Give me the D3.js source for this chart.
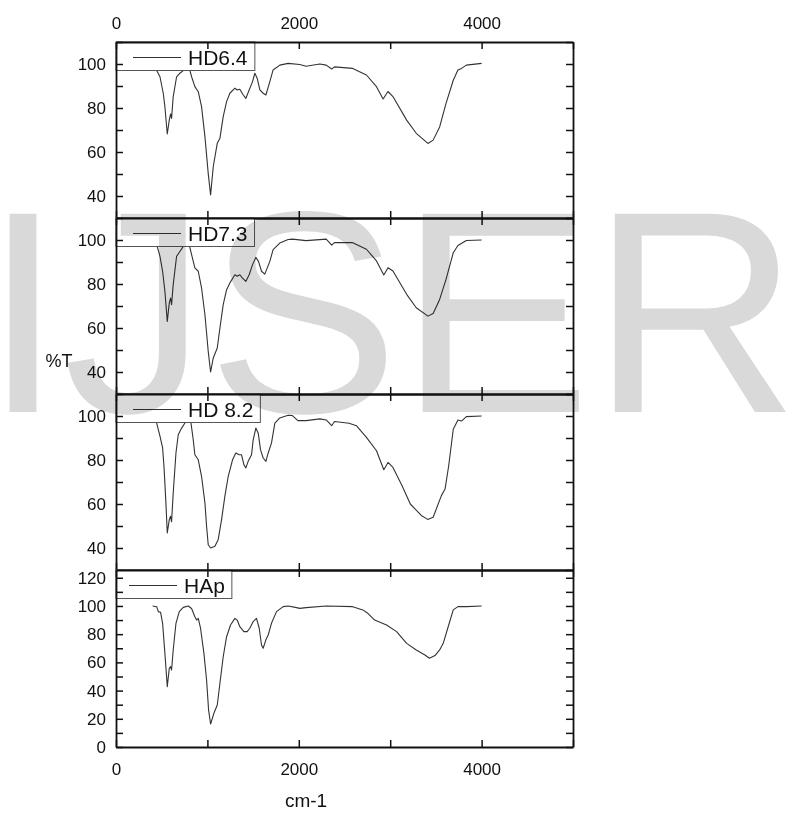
<!DOCTYPE html>
<html lang="en">
<head>
<meta charset="UTF-8">
<script src="https://cdn.jsdelivr.net/npm/d3@7"></script>
<style>
  body { margin: 0; background: #fff; }
  svg text { font-family: Arial, "Liberation Sans", sans-serif; fill: #111; }
  .axis path, .axis line { stroke: #111; }
</style>
</head>
<body>
<svg id="chart" width="787" height="815"></svg>
<script>
// spectra: [wavenumber cm-1, %T]
var hd64 = [[400,100],[445,97],[481,94.2],[517,86.7],[535,80.6],[561,68.2],[583,74.5],[597,77.3],[608,75.3],[626,85.2],
  [663,94.2],[699,95.8],[736,97],[770,98.5],[800,98.5],[827,94.2],[863,89.7],[900,87.4],[936,80.6],[973,67],[1009,50.3],
  [1035,40.5],[1064,53.3],[1108,64],[1137,66.2],[1173,76.1],[1210,82.9],[1246,86.7],[1301,89],[1326,88.2],[1355,88.5],
  [1392,85.9],[1421,84.4],[1457,88.2],[1494,92],[1519,95.8],[1545,93.5],[1574,88.2],[1610,86.7],[1640,85.9],[1683,92],
  [1719,97.3],[1792,99.5],[1883,100.3],[2011,99.8],[2080,99],[2230,100],[2300,99.5],[2360,97.7],[2390,98.7],[2590,98],
  [2740,95],[2850,89.7],[2922,84.1],[2976,87.5],[3030,85.2],[3180,74.5],[3285,68.5],[3413,63.9],[3470,65.4],[3541,71.4],
  [3610,82],[3690,92.6],[3741,97.3],[3780,98],[3833,99.5],[4000,100.3]];

var hd73 = [[400,100],[445,97.9],[481,92.6],[510,85.8],[535,76.7],[561,63],[583,71.4],[597,73.6],[608,70.6],[626,79.7],
  [663,92.6],[699,94.8],[736,97.1],[770,98.5],[800,98],[827,93.3],[863,87.3],[900,85.8],[936,78.2],[973,66],[1009,49.4],
  [1035,40],[1064,46.4],[1108,50.9],[1137,60],[1173,70.6],[1210,77.4],[1246,80.5],[1301,84.2],[1326,83.5],[1355,84.2],
  [1384,82.7],[1421,81.2],[1457,84.2],[1494,88.8],[1530,92.1],[1559,90.3],[1592,85.8],[1628,84.5],[1683,90.3],[1719,95.6],
  [1792,98.6],[1883,100.2],[1930,100.4],[2080,99.7],[2300,100.4],[2360,97.7],[2390,98.8],[2590,98.8],[2740,95.8],
  [2850,90.5],[2930,84.1],[2976,87.4],[3030,85.9],[3180,75.3],[3285,69.2],[3413,65.4],[3470,66.6],[3541,73],[3610,82],
  [3690,94.2],[3741,97.5],[3833,99.8],[4000,100]];

var hd82 = [[400,100],[445,96.8],[481,90.8],[510,85.5],[525,77.1],[546,60.5],[561,46.8],[583,52.9],[597,54.4],[608,51.9],
  [626,65],[656,83.2],[681,91.5],[718,94.5],[754,96.8],[790,98.5],[820,97],[845,89.2],[863,82.4],[900,80.1],[936,72.6],
  [973,60.5],[991,49.9],[1009,41.5],[1035,40],[1082,40.8],[1118,43.8],[1155,52.9],[1191,63.5],[1228,72.6],[1275,80.1],
  [1311,83.2],[1348,82.4],[1373,82.4],[1399,77.9],[1421,76.4],[1446,79.4],[1483,82.4],[1501,89.2],[1530,94.5],[1556,92.2],
  [1581,84.7],[1610,80.9],[1640,79.4],[1665,83.2],[1701,87.7],[1738,96.8],[1792,99.1],[1883,100.3],[1930,100.2],[1990,97.9],
  [2080,97.9],[2230,98.7],[2300,98.2],[2360,95.6],[2390,97.5],[2550,96.7],[2630,95.6],[2740,90.3],[2850,84.2],[2930,75.6],
  [2976,78.9],[3030,76.6],[3130,68.3],[3220,60],[3340,54.8],[3410,53],[3470,54],[3560,63.8],[3600,66.8],[3640,77.4],
  [3690,94],[3741,98.2],[3780,97.7],[3833,99.7],[4000,100]];

var hap = [[401,100],[445,99.5],[463,96],[488,95.5],[510,87.7],[535,66.4],[561,42.8],[583,55.8],[597,57],[608,54.6],
  [626,68.8],[656,87.7],[692,96],[736,99],[790,100],[827,98.2],[863,92.4],[882,90],[900,91.2],[925,84.2],[962,66.4],
  [991,47.5],[1013,26.2],[1035,16.3],[1071,23.9],[1108,29.8],[1137,45.2],[1173,64],[1210,78.2],[1253,86.5],[1301,91.2],
  [1326,90],[1355,85.3],[1399,81.8],[1435,81.8],[1464,84.2],[1501,88.9],[1537,91.2],[1567,84.2],[1592,72.3],[1610,70],
  [1640,76],[1665,79.4],[1701,87.7],[1756,96],[1829,99.5],[1883,100],[1975,98.8],[2011,98.3],[2080,98.8],[2300,100],
  [2590,99.5],[2700,97.2],[2755,94.8],[2830,90],[2960,86.5],[3070,81.8],[3180,73.5],[3285,68.8],[3380,65.2],[3430,62.9],
  [3490,64.8],[3541,68.8],[3580,73.5],[3640,86.5],[3690,97.2],[3741,99.5],[3833,99.5],[4000,100]];

var seriesNames = ["HD6.4", "HD7.3", "HD 8.2", "HAp"];
var seriesData = [hd64, hd73, hd82, hap];
var xTicks = [0, 1000, 2000, 3000, 4000, 5000];
var xTickLabels = [0, 2000, 4000];
var yTicksHD = [30, 40, 50, 60, 70, 80, 90, 100, 110];
var yLabelsHD = [40, 60, 80, 100];
var yTicksHAp = [0, 10, 20, 30, 40, 50, 60, 70, 80, 90, 100, 110, 120];
var yLabelsHAp = [0, 20, 40, 60, 80, 100, 120];

var left = 116, right = 573;
var panelEdges = [42, 218, 394, 570, 747];
var svg = d3.select("#chart");

var x = d3.scaleLinear().domain([0, 5000]).range([left, right]);

seriesData.forEach(function(data, i) {
  var top = panelEdges[i], bottom = panelEdges[i + 1];
  var isHAp = i == 3;
  var y = d3.scaleLinear()
    .domain(isHAp ? [0, 125.5] : [30, 110])
    .range([bottom, top]);
  var ticks = isHAp ? yTicksHAp : yTicksHD;
  var labels = isHAp ? yLabelsHAp : yLabelsHD;

  var g = svg.append("g");

  g.append("path")
    .datum(data)
    .attr("fill", "none")
    .attr("stroke", "#333")
    .attr("stroke-width", 1.1)
    .attr("stroke-linejoin", "round")
    .attr("d", d3.line().x(function(d) { return x(d[0]); }).y(function(d) { return y(d[1]); }));

  // legend
  var shift = isHAp ? -4 : 0;
  var leg = g.append("g");
  var box = leg.append("rect")
    .attr("x", left).attr("y", top)
    .attr("height", 28.5)
    .attr("fill", "#fff").attr("stroke", "#555").attr("stroke-width", 1);
  leg.append("line")
    .attr("x1", 133 + shift).attr("x2", 181 + shift)
    .attr("y1", top + 15.5).attr("y2", top + 15.5)
    .attr("stroke", "#333").attr("stroke-width", 1.1);
  var txt = leg.append("text")
    .attr("x", 188 + shift).attr("y", top + 23)
    .style("font-size", "21px")
    .text(seriesNames[i]);
  var bb = txt.node().getBBox();
  box.attr("width", bb.x + bb.width + 7 - left);

  // axes, ticks inward
  g.append("g").attr("class", "axis")
    .attr("transform", "translate(" + left + ",0)")
    .call(d3.axisLeft(y).tickValues(ticks).tickSize(-7).tickSizeOuter(0).tickPadding(10)
      .tickFormat(function(d) { return labels.indexOf(d) >= 0 ? d : ""; }));
  g.append("g").attr("class", "axis")
    .attr("transform", "translate(" + right + ",0)")
    .call(d3.axisRight(y).tickValues(ticks).tickSize(-7).tickSizeOuter(0).tickFormat(""));
  g.append("g").attr("class", "axis")
    .attr("transform", "translate(0," + top + ")")
    .call(d3.axisTop(x).tickValues(xTicks).tickSize(-7).tickSizeOuter(0).tickPadding(13)
      .tickFormat(function(d) { return i == 0 && xTickLabels.indexOf(d) >= 0 ? d : ""; }));
  g.append("g").attr("class", "axis")
    .attr("transform", "translate(0," + bottom + ")")
    .call(d3.axisBottom(x).tickValues(xTicks).tickSize(-7).tickSizeOuter(0).tickPadding(16)
      .tickFormat(function(d) { return i == 3 && xTickLabels.indexOf(d) >= 0 ? d : ""; }));
});

svg.selectAll(".axis text").style("font-size", "17px").attr("fill", "#111");
svg.selectAll(".axis path").attr("stroke-width", 1.8);
svg.selectAll(".axis line").attr("stroke-width", 1.5);

svg.append("text")
  .attr("x", 59).attr("y", 367)
  .attr("text-anchor", "middle")
  .style("font-size", "18px")
  .text("%T");

svg.append("text")
  .attr("x", 306).attr("y", 807)
  .attr("text-anchor", "middle")
  .style("font-size", "19px")
  .text("cm-1");

// watermark on top, multiplied so dark strokes stay dark
svg.append("text")
  .attr("x", -17).attr("y", 412)
  .style("font-size", "288px")
  .style("fill", "#d9d9d9")
  .style("mix-blend-mode", "multiply")
  .text("IJSER");
</script>
</body>
</html>
